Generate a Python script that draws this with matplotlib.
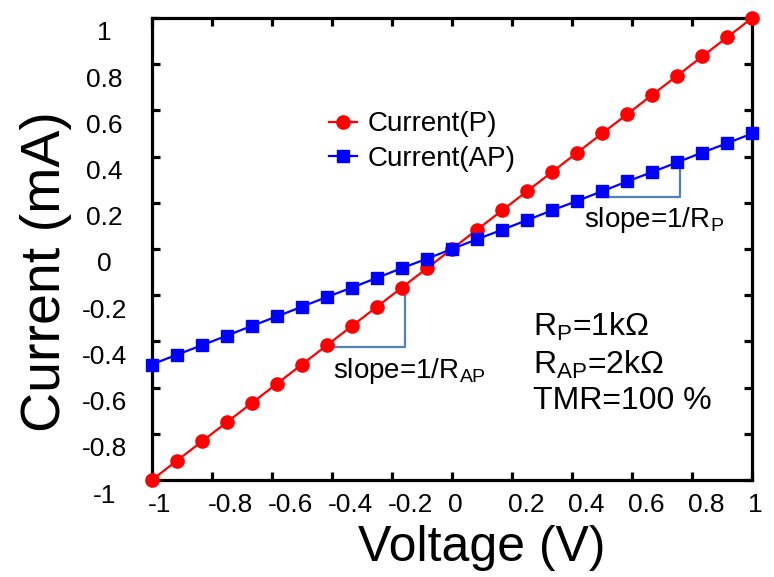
import matplotlib
matplotlib.use("Agg")
import matplotlib.pyplot as plt
from matplotlib.transforms import ScaledTranslation

plt.rcParams['font.family'] = ['Liberation Sans', 'DejaVu Sans']
plt.rcParams['mathtext.fontset'] = 'custom'
plt.rcParams['mathtext.rm'] = 'Liberation Sans'
plt.rcParams['axes.unicode_minus'] = False

# voltage sweep (V) and the two currents (mA)
voltage = [-1.0, -0.917, -0.833, -0.75, -0.667, -0.583, -0.5, -0.417, -0.333,
           -0.25, -0.167, -0.083, 0.0, 0.083, 0.167, 0.25, 0.333, 0.417, 0.5,
           0.583, 0.667, 0.75, 0.833, 0.917, 1.0]
current_p = [-1.0, -0.917, -0.833, -0.75, -0.667, -0.583, -0.5, -0.417, -0.333,
             -0.25, -0.167, -0.083, 0.0, 0.083, 0.167, 0.25, 0.333, 0.417, 0.5,
             0.583, 0.667, 0.75, 0.833, 0.917, 1.0]
current_ap = [-0.5, -0.458, -0.417, -0.375, -0.333, -0.292, -0.25, -0.208, -0.167,
              -0.125, -0.083, -0.042, 0.0, 0.042, 0.083, 0.125, 0.167, 0.208, 0.25,
              0.292, 0.333, 0.375, 0.417, 0.458, 0.5]

ticks = [-1, -0.8, -0.6, -0.4, -0.2, 0, 0.2, 0.4, 0.6, 0.8, 1]
tick_labels = ['-1', '-0.8', '-0.6', '-0.4', '-0.2', '0', '0.2', '0.4', '0.6', '0.8', '1']

fig = plt.figure(figsize=(7.74, 5.77), dpi=100)
ax = fig.add_axes([0.196, 0.168, 0.776, 0.801])

ax.plot(voltage, current_p, color='red', marker='o', markersize=9.5, lw=1.6,
        label='Current(P)', clip_on=False, zorder=3)
ax.plot(voltage, current_ap, color='blue', marker='s', markersize=8, lw=1.6,
        label='Current(AP)', clip_on=False, zorder=3)

# slope triangles
slope_col = '#4f81bd'
ax.plot([0.5, 0.76, 0.76], [0.225, 0.225, 0.385], color=slope_col, lw=1.6, zorder=2)
ax.plot([-0.4, -0.155, -0.155], [-0.424, -0.424, -0.19], color=slope_col, lw=1.6, zorder=2)
ax.text(0.44, 0.125, r'slope=1/R$_{\mathregular{P}}$', fontsize=20, va='center')
ax.text(-0.395, -0.53, r'slope=1/R$_{\mathregular{AP}}$', fontsize=20, va='center')

ax.text(0.27, -0.335, r'R$_{\mathregular{P}}$=1k$\Omega$', fontsize=23, va='center')
ax.text(0.27, -0.50, r'R$_{\mathregular{AP}}$=2k$\Omega$', fontsize=23, va='center')
ax.text(0.27, -0.66, 'TMR=100 %', fontsize=23, va='center')

ax.set_xlim(-1, 1)
ax.set_ylim(-1, 1)
ax.set_xticks(ticks)
ax.set_yticks(ticks)
ax.set_xticklabels(tick_labels, ha='left')
ax.set_yticklabels(tick_labels, ha='center')
ax.tick_params(direction='in', length=5.5, width=2.3, top=True, right=True,
               labelsize=19)
ax.tick_params(axis='y', pad=34)
ax.tick_params(axis='x', pad=9)
for lab in ax.get_xticklabels():
    lab.set_transform(lab.get_transform() + ScaledTranslation(-0.04, 0, fig.dpi_scale_trans))
for lab in ax.get_yticklabels():
    lab.set_transform(lab.get_transform() + ScaledTranslation(0, -0.13, fig.dpi_scale_trans))
for s in ax.spines.values():
    s.set_linewidth(2.3)

ax.set_xlabel('Voltage (V)', fontsize=36)
ax.set_ylabel('Current (mA)', fontsize=40)
ax.xaxis.set_label_coords(0.55, -0.098)
ax.yaxis.set_label_coords(-0.133, 0.452)

ax.legend(loc='upper left', bbox_to_anchor=(0.295, 0.798), frameon=False,
          fontsize=20, handlelength=1.0, handletextpad=0.4, labelspacing=0.3,
          borderpad=0, borderaxespad=0)

fig.savefig('out.png', dpi=100)
